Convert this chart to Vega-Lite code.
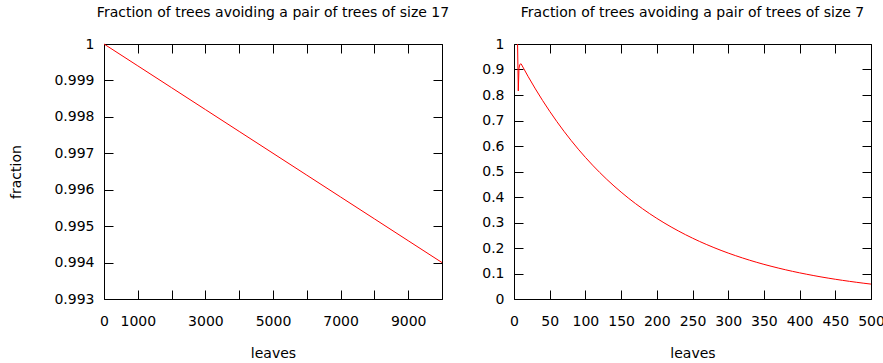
{
  "$schema": "https://vega.github.io/schema/vega-lite/v6.json",
  "autosize": {"type": "pad"},
  "padding": {"left": 9, "top": 5, "right": 0, "bottom": 0},
  "background": "white",
  "bounds": "flush",
  "spacing": 72,
  "config": {
    "font": "DejaVu Sans",
    "view": {"stroke": "black", "strokeWidth": 1},
    "axis": {
      "domain": false, "grid": false, "tickColor": "black", "tickSize": -9, "tickWidth": 1,
      "labelFont": "DejaVu Sans", "labelFontSize": 14, "labelColor": "black",
      "titleFont": "DejaVu Sans", "titleFontSize": 14, "titleFontWeight": "normal", "titleColor": "black",
      "labelFlush": false, "labelOverlap": false
    },
    "title": {"font": "DejaVu Sans", "fontSize": 14, "fontWeight": "normal", "color": "black", "offset": 17}
  },
  "hconcat": [
    {
      "width": 338, "height": 255,
      "title": {"text": "Fraction of trees avoiding a pair of trees of size 17"},
      "data": {"values": [
        {"leaves": 0, "fraction": 1.0},
        {"leaves": 1000, "fraction": 0.9994},
        {"leaves": 2000, "fraction": 0.9988},
        {"leaves": 3000, "fraction": 0.9982},
        {"leaves": 4000, "fraction": 0.9976},
        {"leaves": 5000, "fraction": 0.997},
        {"leaves": 6000, "fraction": 0.9964},
        {"leaves": 7000, "fraction": 0.9958},
        {"leaves": 8000, "fraction": 0.9952},
        {"leaves": 9000, "fraction": 0.9946},
        {"leaves": 10000, "fraction": 0.994}
      ]},
      "layer": [
        {
          "mark": {"type": "line", "color": "#ff0000", "strokeWidth": 1},
          "encoding": {
            "x": {"field": "leaves", "type": "quantitative", "scale": {"domain": [0, 10000], "nice": false, "zero": false},
              "axis": {"orient": "bottom", "values": [0, 1000, 2000, 3000, 4000, 5000, 6000, 7000, 8000, 9000, 10000],
                "format": "d", "labelExpr": "(datum.value == 0 || datum.value % 2000 == 1000) ? datum.label : ''",
                "title": "leaves", "titlePadding": 18, "labelPadding": 24}},
            "y": {"field": "fraction", "type": "quantitative", "scale": {"domain": [0.993, 1], "nice": false, "zero": false},
              "axis": {"orient": "left", "values": [0.993, 0.994, 0.995, 0.996, 0.997, 0.998, 0.999, 1],
                "format": ".3~f", "title": "fraction", "titlePadding": 30, "labelPadding": 19}}
          }
        },
        {
          "mark": {"type": "line", "opacity": 0},
          "encoding": {
            "x": {"field": "leaves", "type": "quantitative",
              "axis": {"orient": "top", "values": [0, 1000, 2000, 3000, 4000, 5000, 6000, 7000, 8000, 9000, 10000], "labels": false, "title": null}},
            "y": {"field": "fraction", "type": "quantitative",
              "axis": {"orient": "right", "values": [0.993, 0.994, 0.995, 0.996, 0.997, 0.998, 0.999, 1], "labels": false, "title": null}}
          }
        }
      ]
    },
    {
      "width": 357, "height": 255,
      "title": {"text": "Fraction of trees avoiding a pair of trees of size 7"},
      "data": {"values": [
        {"leaves": 5, "fraction": 1.0},
        {"leaves": 6, "fraction": 0.816},
        {"leaves": 7, "fraction": 0.905},
        {"leaves": 8, "fraction": 0.918},
        {"leaves": 9, "fraction": 0.922},
        {"leaves": 10, "fraction": 0.922},
        {"leaves": 20, "fraction": 0.8715},
        {"leaves": 30, "fraction": 0.8238},
        {"leaves": 40, "fraction": 0.7787},
        {"leaves": 50, "fraction": 0.7361},
        {"leaves": 60, "fraction": 0.6958},
        {"leaves": 70, "fraction": 0.6577},
        {"leaves": 80, "fraction": 0.6217},
        {"leaves": 90, "fraction": 0.5876},
        {"leaves": 100, "fraction": 0.5555},
        {"leaves": 110, "fraction": 0.525},
        {"leaves": 120, "fraction": 0.4963},
        {"leaves": 130, "fraction": 0.4691},
        {"leaves": 140, "fraction": 0.4434},
        {"leaves": 150, "fraction": 0.4192},
        {"leaves": 160, "fraction": 0.3962},
        {"leaves": 170, "fraction": 0.3745},
        {"leaves": 180, "fraction": 0.354},
        {"leaves": 190, "fraction": 0.3346},
        {"leaves": 200, "fraction": 0.3163},
        {"leaves": 210, "fraction": 0.299},
        {"leaves": 220, "fraction": 0.2826},
        {"leaves": 230, "fraction": 0.2672},
        {"leaves": 240, "fraction": 0.2525},
        {"leaves": 250, "fraction": 0.2387},
        {"leaves": 260, "fraction": 0.2256},
        {"leaves": 270, "fraction": 0.2133},
        {"leaves": 280, "fraction": 0.2016},
        {"leaves": 290, "fraction": 0.1906},
        {"leaves": 300, "fraction": 0.1801},
        {"leaves": 310, "fraction": 0.1703},
        {"leaves": 320, "fraction": 0.161},
        {"leaves": 330, "fraction": 0.1521},
        {"leaves": 340, "fraction": 0.1438},
        {"leaves": 350, "fraction": 0.1359},
        {"leaves": 360, "fraction": 0.1285},
        {"leaves": 370, "fraction": 0.1215},
        {"leaves": 380, "fraction": 0.1148},
        {"leaves": 390, "fraction": 0.1085},
        {"leaves": 400, "fraction": 0.1026},
        {"leaves": 410, "fraction": 0.097},
        {"leaves": 420, "fraction": 0.0917},
        {"leaves": 430, "fraction": 0.0866},
        {"leaves": 440, "fraction": 0.0819},
        {"leaves": 450, "fraction": 0.0774},
        {"leaves": 460, "fraction": 0.0732},
        {"leaves": 470, "fraction": 0.0692},
        {"leaves": 480, "fraction": 0.0654},
        {"leaves": 490, "fraction": 0.0618},
        {"leaves": 500, "fraction": 0.0584}
      ]},
      "layer": [
        {
          "mark": {"type": "line", "color": "#ff0000", "strokeWidth": 1},
          "encoding": {
            "x": {"field": "leaves", "type": "quantitative", "scale": {"domain": [0, 500], "nice": false, "zero": false},
              "axis": {"orient": "bottom", "values": [0, 50, 100, 150, 200, 250, 300, 350, 400, 450, 500],
                "format": "d", "title": "leaves", "titlePadding": 18, "labelPadding": 24}},
            "y": {"field": "fraction", "type": "quantitative", "scale": {"domain": [0, 1], "nice": false, "zero": false},
              "axis": {"orient": "left", "values": [0, 0.1, 0.2, 0.3, 0.4, 0.5, 0.6, 0.7, 0.8, 0.9, 1],
                "format": ".1~f", "title": null, "labelPadding": 19}}
          }
        },
        {
          "mark": {"type": "line", "opacity": 0},
          "encoding": {
            "x": {"field": "leaves", "type": "quantitative",
              "axis": {"orient": "top", "values": [0, 50, 100, 150, 200, 250, 300, 350, 400, 450, 500], "labels": false, "title": null}},
            "y": {"field": "fraction", "type": "quantitative",
              "axis": {"orient": "right", "values": [0, 0.1, 0.2, 0.3, 0.4, 0.5, 0.6, 0.7, 0.8, 0.9, 1], "labels": false, "title": null}}
          }
        }
      ]
    }
  ]
}
